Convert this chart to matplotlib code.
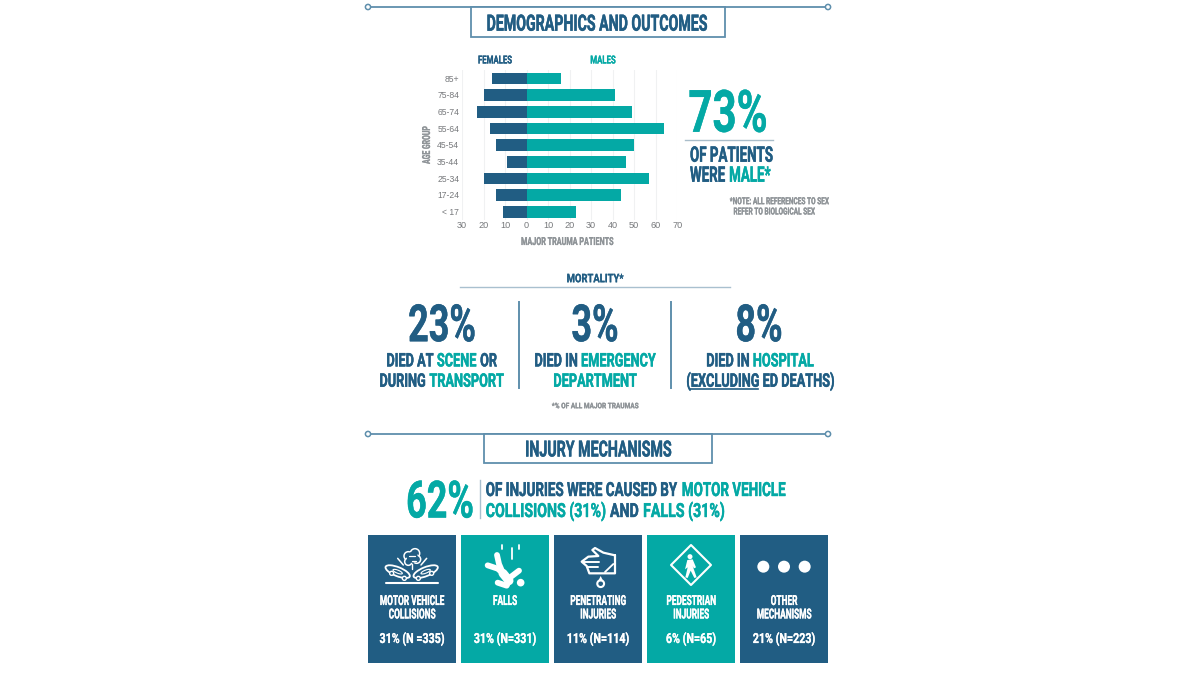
import os
import tempfile
import matplotlib
matplotlib.use("Agg")
import matplotlib.pyplot as plt
from fontTools.ttLib import TTFont
from matplotlib import font_manager as fm
from matplotlib.patches import Rectangle, Circle, Polygon, Ellipse
from matplotlib.patheffects import withStroke
from matplotlib.ticker import FixedLocator, FuncFormatter

age_groups = ["< 17", "17-24", "25-34", "35-44", "45-54", "55-64", "65-74", "75-84", "85+"]
females = [11, 14, 20, 9, 14, 17, 23, 20, 16]
males = [23, 44, 57, 46, 50, 64, 49, 41, 16]
x_ticks = [-30, -20, -10, 0, 10, 20, 30, 40, 50, 60, 70]
mortality_pct = ["23%", "3%", "8%"]
mech_labels = [["MOTOR VEHICLE", "COLLISIONS"], ["FALLS"], ["PENETRATING", "INJURIES"],
               ["PEDESTRIAN", "INJURIES"], ["OTHER", "MECHANISMS"]]
mech_counts = ["31% (N =335)", "31% (N=331)", "11% (N=114)", "6% (N=65)", "21% (N=223)"]

DARK = "#215d83"
TEAL = "#04a9a5"
LINE = "#5f8fac"
GREY = "#8f9498"
WHITE = "white"

BASE_FONT = fm.findfont(fm.FontProperties(family="Roboto", weight="bold"))
FONT_DIR = tempfile.mkdtemp()
_font_cache = {}


def condensed_font(scale):
    """Build (once) a horizontally condensed copy of the base font; returns its file."""
    if scale in _font_cache:
        return _font_cache[scale]
    f = TTFont(BASE_FONT)
    glyf = f["glyf"]
    for name in glyf.keys():
        g = glyf[name]
        if g.isComposite():
            for comp in g.components:
                comp.x = round(comp.x * scale)
        elif g.numberOfContours > 0:
            g.coordinates.scale((scale, 1))
            g.coordinates.toInt()
            g.removeHinting()
    hmtx = f["hmtx"]
    for name, (adv, lsb) in list(hmtx.metrics.items()):
        hmtx.metrics[name] = (round(adv * scale), round(lsb * scale))
    if "kern" in f:
        for table in f["kern"].kernTables:
            for pair, val in list(table.kernTable.items()):
                table.kernTable[pair] = round(val * scale)
    for tag in ("fpgm", "prep", "cvt ", "hdmx", "VDMX", "LTSH", "GPOS", "GSUB", "GDEF"):
        if tag in f:
            del f[tag]
    path = os.path.join(FONT_DIR, f"condensed_{int(round(scale * 100))}.ttf")
    f.save(path)
    _font_cache[scale] = path
    return path


fig = plt.figure(figsize=(12, 6.75), dpi=100, facecolor="white")
bg = fig.add_axes([0, 0, 1, 1])
bg.set_xlim(0, 1200)
bg.set_ylim(675, 0)
bg.axis("off")
renderer = fig.canvas.get_renderer()


def T(x, y, s, size, color=DARK, ha="center", sq=0.63, rotation=0, stroke=None, z=5):
    """Text centred on y by its capitals (cap height is about size px * 1.0)."""
    prop = fm.FontProperties(fname=condensed_font(sq), size=size)
    if rotation == 90:
        t = bg.text(x, y, s, fontproperties=prop, color=color, ha="center", va="center",
                    rotation=90, zorder=z)
    else:
        t = bg.text(x, y + size * 0.5, s, fontproperties=prop, color=color, ha=ha,
                    va="baseline", zorder=z)
    if stroke is None:
        stroke = 0.15 if size < 9 else 0.3
    if stroke:
        t.set_path_effects([withStroke(linewidth=stroke, foreground=color)])
    return t


def rich(x, y, runs, size, ha="center", sq=0.68, gap=0.3):
    """Colored word runs on one line, laid out from measured widths."""
    g = size / 0.72 * gap * sq
    items = [T(0, y, s, size, c, ha="left", sq=sq) for s, c in runs]
    widths = [t.get_window_extent(renderer).width for t in items]
    total = sum(widths) + g * (len(items) - 1)
    cx = x - total / 2 if ha == "center" else x
    for t, w in zip(items, widths):
        t.set_x(cx)
        cx += w + g


def header(y, box, title, size, tx, ty, sq):
    bg.plot([368, 828], [y, y], color=LINE, lw=1.3, zorder=1)
    for cx in (368, 828):
        bg.add_patch(Circle((cx, y), 2.6, fc="white", ec=LINE, lw=1.1, zorder=3))
    bg.add_patch(Rectangle((box[0], box[1]), box[2] - box[0], box[3] - box[1],
                           fc="white", ec=LINE, lw=1.3, zorder=2))
    T(tx, ty, title, size, sq=sq)


header(7, (471, 7, 725, 37), "DEMOGRAPHICS AND OUTCOMES", 16.2, 597, 22.6, 0.63)
header(434, (484, 434, 712, 463), "INJURY MECHANISMS", 16, 598, 448.5, 0.64)

# Butterfly chart
ax = fig.add_axes([462 / 1200, 1 - 220 / 675, (677.3 - 462) / 1200, 150 / 675])
ypos = list(range(len(age_groups)))
ax.barh(ypos, [-v for v in females], height=0.7, color=DARK, zorder=3)
ax.barh(ypos, males, height=0.7, color=TEAL, zorder=3)
ax.set_xlim(-30, 70)
ax.set_ylim(-0.5, 8.5)
ax.xaxis.set_major_locator(FixedLocator(x_ticks))
ax.xaxis.set_major_formatter(FuncFormatter(lambda v, p: f"{abs(int(v))}"))
ax.set_yticks(ypos)
ax.set_yticklabels(age_groups)
ax.tick_params(axis="y", length=0, labelsize=6.2, labelcolor="#77797c", pad=2)
ax.tick_params(axis="x", length=0, labelsize=6.6, labelcolor="#77797c", pad=0.5)
ax.grid(axis="x", color="#f0f1f2", lw=0.8, zorder=0)
for s in ax.spines.values():
    s.set_visible(False)
for lab in ax.get_xticklabels() + ax.get_yticklabels():
    lab.set_family("Liberation Sans")

T(495, 59.5, "FEMALES", 8, sq=0.7)
T(603, 59.5, "MALES", 8, TEAL, sq=0.7)
T(567, 241, "MAJOR TRAUMA PATIENTS", 8, GREY, sq=0.65)
T(427, 145, "AGE GROUP", 8, GREY, rotation=90, sq=0.62)

T(728, 110.7, "73%", 42, TEAL, sq=0.72)
bg.plot([685, 773], [139.5, 139.5], color="#a9bdca", lw=1)
T(690, 154, "OF PATIENTS", 15.5, ha="left", sq=0.62)
rich(690, 174, [("WERE", DARK), ("MALE*", TEAL)], 15.5, ha="left", sq=0.62)
T(779, 200.7, "*NOTE: ALL REFERENCES TO SEX", 7, GREY, sq=0.67)
T(774, 211, "REFER TO BIOLOGICAL SEX", 7, GREY, sq=0.67)

# Mortality
T(595, 278, "MORTALITY*", 8.5, sq=0.8)
bg.plot([460, 730], [287, 287], color="#a9c0cf", lw=1)
for cx, pct in zip((442, 595, 759), mortality_pct):
    T(cx, 322.7, pct, 37, sq=0.7)
for vx in (519, 670.7):
    bg.plot([vx, vx], [302, 388], color=LINE, lw=1.4)
rich(441.7, 359.7, [("DIED AT", DARK), ("SCENE", TEAL), ("OR", DARK)], 13.5)
rich(441.7, 380, [("DURING", DARK), ("TRANSPORT", TEAL)], 13.5)
rich(595, 359.7, [("DIED IN", DARK), ("EMERGENCY", TEAL)], 13.5)
T(595, 380, "DEPARTMENT", 13.5, TEAL, sq=0.68)
rich(760, 359.7, [("DIED IN", DARK), ("HOSPITAL", TEAL)], 13.5)
T(760, 380, "(EXCLUDING ED DEATHS)", 13.5, sq=0.68)
bg.plot([690, 758], [389, 389], color=DARK, lw=1.2)
T(595, 405.5, "*% OF ALL MAJOR TRAUMAS", 5.5, GREY, sq=0.85)

# Injury headline
T(440, 499, "62%", 37, TEAL, sq=0.7)
bg.plot([480, 480], [480, 518], color="#a9c0cf", lw=1)
rich(485.7, 489, [("OF INJURIES WERE CAUSED BY", DARK), ("MOTOR VEHICLE", TEAL)], 14, ha="left", sq=0.69)
rich(485.7, 510, [("COLLISIONS (31%)", TEAL), ("AND", DARK), ("FALLS (31%)", TEAL)], 14, ha="left", sq=0.73)

# Cards
card_x = [(368, 456), (461, 549), (554, 642), (647, 735), (740, 828)]
card_c = [DARK, TEAL, DARK, TEAL, DARK]
for (x0, x1), c, lab, cnt in zip(card_x, card_c, mech_labels, mech_counts):
    bg.add_patch(Rectangle((x0, 535), x1 - x0, 128, fc=c, ec="none"))
    cx = (x0 + x1) / 2
    for i, line in enumerate(lab):
        T(cx, 600 + i * 13.5, line, 10, WHITE, sq=0.6, stroke=0.15)
    T(cx, 638, cnt, 10, WHITE, sq=0.77, stroke=0.15)


def C(ox, oy):
    return lambda x, y: (ox + x / 3, oy + y / 3)


def stroke_line(P, pts, lw=1.2, color=WHITE):
    bg.plot(*zip(*[P(*p) for p in pts]), color=color, lw=lw,
            solid_capstyle="round", solid_joinstyle="round", zorder=4)


# Collision icon (crop origin 375,540)
P = C(375, 540)
stroke_line(P, [(32, 128), (188, 128)], 1.5)
for ang, (ex, ey) in ((22, (68, 95)), (-22, (152, 95))):
    bg.add_patch(Ellipse(P(ex, ey), 26, 9, angle=ang, fc=DARK, ec=WHITE, lw=1.3, zorder=4))
    bg.add_patch(Ellipse(P(ex, ey), 10, 3, angle=ang, fc=DARK, ec=WHITE, lw=0.8, zorder=4))
for wx, wy in ((50, 100), (88, 115), (130, 115), (170, 100)):
    bg.add_patch(Circle(P(wx, wy), 2, fc=DARK, ec=WHITE, lw=1, zorder=5))
for cxx, cyy, r in ((100, 48, 13), (120, 40, 14), (125, 58, 12), (100, 65, 11)):
    bg.add_patch(Circle(P(cxx, cyy), r / 3, fc=DARK, ec=WHITE, lw=1.1, zorder=4))
bg.add_patch(Circle(P(112, 52), 5.5, fc=DARK, ec="none", zorder=4))
stroke_line(P, [(103, 48), (120, 48)], 0.9)
stroke_line(P, [(110, 62), (122, 62)], 0.9)
stroke_line(P, [(112, 72), (112, 88)], 1.0)
stroke_line(P, [(68, 55), (85, 75)], 1.1)
stroke_line(P, [(155, 55), (138, 75)], 1.1)

# Fall icon
stroke_line(P, [(381, 16), (381, 28)], 1.3)
stroke_line(P, [(410, 25), (410, 58)], 1.3)
stroke_line(P, [(431, 16), (431, 28)], 1.3)
stroke_line(P, [(338, 76), (368, 86), (384, 100)], 4.2)
stroke_line(P, [(366, 45), (372, 72), (384, 100)], 4.2)
stroke_line(P, [(384, 100), (402, 122)], 6.5)
stroke_line(P, [(398, 118), (432, 92)], 4.2)
stroke_line(P, [(402, 122), (395, 137), (368, 128)], 4.2)
bg.add_patch(Circle(P(437, 128), 3.8, fc=WHITE, ec="none", zorder=4))

# Hand icon (crop origin 570,540)
P = C(570, 540)
stroke_line(P, [(135, 46), (100, 38), (75, 24), (67, 30), (85, 48), (55, 50), (35, 65),
                (50, 78), (58, 100), (135, 100), (135, 46)], 1.6)
stroke_line(P, [(38, 65), (88, 65)], 1.4)
stroke_line(P, [(50, 80), (85, 80)], 1.4)
stroke_line(P, [(105, 96), (130, 72)], 1.3)
bg.add_patch(Circle(P(92, 131), 3.4, fc=DARK, ec=WHITE, lw=1.5, zorder=4))
bg.add_patch(Polygon([P(84, 124), P(92, 108), P(100, 124)], closed=True, fc=WHITE, ec="none", zorder=4))

# Pedestrian sign icon
bg.add_patch(Polygon([P(363, 15), P(423, 75), P(363, 135), P(303, 75)], closed=True,
                     fc="none", ec=WHITE, lw=1.5, joinstyle="round", zorder=4))
bg.add_patch(Circle(P(360, 50), 2.5, fc=WHITE, ec="none", zorder=4))
bg.add_patch(Polygon([P(352, 60), P(368, 58), P(378, 82), P(372, 85), P(368, 78), P(380, 112),
                      P(373, 114), P(362, 92), P(353, 114), P(346, 112), P(353, 82), P(345, 88)],
                     closed=True, fc=WHITE, ec="none", zorder=4))

# Dots icon
P = C(360, 525)
for zx in (1210, 1272, 1334):
    bg.add_patch(Circle(P(zx, 125), 6, fc=WHITE, ec="none", zorder=4))

fig.savefig("out.png", dpi=100, facecolor="white")
